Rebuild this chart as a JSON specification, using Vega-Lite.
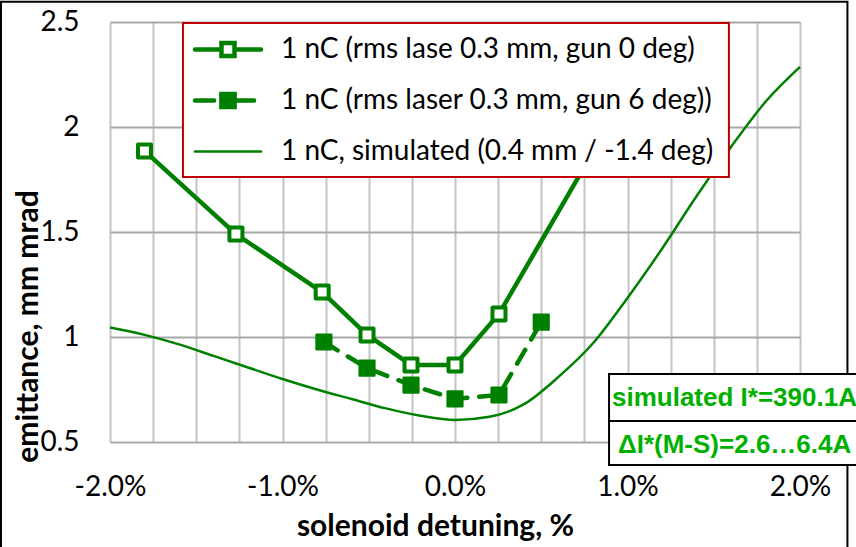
{
  "$schema": "https://vega.github.io/schema/vega-lite/v6.json",
  "width": 690,
  "height": 420,
  "autosize": {"type": "none"},
  "padding": {"left": 110, "top": 22, "right": 56, "bottom": 105},
  "background": "white",
  "config": {"view": {"stroke": null}, "font": "Lato, sans-serif"},
  "datasets": {
    "meas": [
      {"series": "1 nC (rms lase 0.3 mm, gun 0 deg)", "x": -0.018, "y": 1.886},
      {"series": "1 nC (rms lase 0.3 mm, gun 0 deg)", "x": -0.0127, "y": 1.49},
      {"series": "1 nC (rms lase 0.3 mm, gun 0 deg)", "x": -0.0077, "y": 1.214},
      {"series": "1 nC (rms lase 0.3 mm, gun 0 deg)", "x": -0.0051, "y": 1.01},
      {"series": "1 nC (rms lase 0.3 mm, gun 0 deg)", "x": -0.00255, "y": 0.867},
      {"series": "1 nC (rms lase 0.3 mm, gun 0 deg)", "x": 0.0, "y": 0.867},
      {"series": "1 nC (rms lase 0.3 mm, gun 0 deg)", "x": 0.00255, "y": 1.11},
      {"series": "1 nC (rms lase 0.3 mm, gun 0 deg)", "x": 0.0075, "y": 1.81},
      {"series": "1 nC (rms laser 0.3 mm, gun 6 deg))", "x": -0.0076, "y": 0.976},
      {"series": "1 nC (rms laser 0.3 mm, gun 6 deg))", "x": -0.0051, "y": 0.852},
      {"series": "1 nC (rms laser 0.3 mm, gun 6 deg))", "x": -0.00255, "y": 0.771},
      {"series": "1 nC (rms laser 0.3 mm, gun 6 deg))", "x": 0.0, "y": 0.705},
      {"series": "1 nC (rms laser 0.3 mm, gun 6 deg))", "x": 0.00255, "y": 0.724},
      {"series": "1 nC (rms laser 0.3 mm, gun 6 deg))", "x": 0.005, "y": 1.071}
    ],
    "sim": [
      {"series": "1 nC, simulated (0.4 mm / -1.4 deg)", "x": -0.02, "y": 1.045},
      {"series": "1 nC, simulated (0.4 mm / -1.4 deg)", "x": -0.018, "y": 1.01},
      {"series": "1 nC, simulated (0.4 mm / -1.4 deg)", "x": -0.016, "y": 0.965},
      {"series": "1 nC, simulated (0.4 mm / -1.4 deg)", "x": -0.014, "y": 0.91},
      {"series": "1 nC, simulated (0.4 mm / -1.4 deg)", "x": -0.012, "y": 0.855},
      {"series": "1 nC, simulated (0.4 mm / -1.4 deg)", "x": -0.01, "y": 0.8},
      {"series": "1 nC, simulated (0.4 mm / -1.4 deg)", "x": -0.008, "y": 0.75},
      {"series": "1 nC, simulated (0.4 mm / -1.4 deg)", "x": -0.006, "y": 0.705},
      {"series": "1 nC, simulated (0.4 mm / -1.4 deg)", "x": -0.004, "y": 0.66},
      {"series": "1 nC, simulated (0.4 mm / -1.4 deg)", "x": -0.002, "y": 0.625},
      {"series": "1 nC, simulated (0.4 mm / -1.4 deg)", "x": 0.0, "y": 0.605},
      {"series": "1 nC, simulated (0.4 mm / -1.4 deg)", "x": 0.002, "y": 0.62},
      {"series": "1 nC, simulated (0.4 mm / -1.4 deg)", "x": 0.004, "y": 0.68},
      {"series": "1 nC, simulated (0.4 mm / -1.4 deg)", "x": 0.006, "y": 0.81},
      {"series": "1 nC, simulated (0.4 mm / -1.4 deg)", "x": 0.008, "y": 0.97},
      {"series": "1 nC, simulated (0.4 mm / -1.4 deg)", "x": 0.01, "y": 1.186},
      {"series": "1 nC, simulated (0.4 mm / -1.4 deg)", "x": 0.012, "y": 1.42},
      {"series": "1 nC, simulated (0.4 mm / -1.4 deg)", "x": 0.014, "y": 1.67},
      {"series": "1 nC, simulated (0.4 mm / -1.4 deg)", "x": 0.016, "y": 1.905},
      {"series": "1 nC, simulated (0.4 mm / -1.4 deg)", "x": 0.018, "y": 2.12},
      {"series": "1 nC, simulated (0.4 mm / -1.4 deg)", "x": 0.02, "y": 2.286}
    ]
  },
  "layer": [
    {
      "data": {"name": "sim"},
      "mark": {"type": "line", "strokeWidth": 2.5, "interpolate": "monotone"},
      "encoding": {
        "x": {
          "field": "x", "type": "quantitative",
          "scale": {"domain": [-0.02, 0.02], "nice": false, "zero": false},
          "axis": {
            "title": "solenoid detuning, %",
            "values": [-0.02, -0.0175, -0.015, -0.0125, -0.01, -0.0075, -0.005, -0.0025, 0, 0.0025, 0.005, 0.0075, 0.01, 0.0125, 0.015, 0.0175, 0.02],
            "format": ".1%",
            "labelExpr": "abs(datum.value * 400 - round(datum.value * 100) * 4) < 0.01 ? replace(datum.label, '\u2212', '-') : ''",
            "domain": false, "ticks": false,
            "gridColor": "#c4c4c4", "gridWidth": 2, "gridOpacity": 1,
            "labelFontSize": 28, "labelColor": "black", "labelPadding": 31, "labelFlush": false,
            "titleFontSize": 30, "titleFontWeight": "bold", "titleColor": "black",
            "titleX": 325, "titleY": 84, "titleBaseline": "middle", "titleAnchor": "start", "titleAlign": "center"
          }
        },
        "y": {
          "field": "y", "type": "quantitative",
          "scale": {"domain": [0.5, 2.5], "nice": false, "zero": false},
          "axis": {
            "title": "emittance, mm mrad",
            "values": [0.5, 1, 1.5, 2, 2.5],
            "format": "~g",
            "domain": false, "ticks": false,
            "gridColor": "#a8a8a8", "gridWidth": 2, "gridOpacity": 1,
            "labelFontSize": 28, "labelColor": "black", "labelPadding": 31,
            "titleFontSize": 30, "titleFontWeight": "bold", "titleColor": "black",
            "titleX": -82, "titleY": 304, "titleBaseline": "middle", "titleAlign": "center", "titleAngle": -90
          }
        },
        "color": {
          "field": "series", "type": "nominal",
          "scale": {
            "domain": ["1 nC (rms lase 0.3 mm, gun 0 deg)", "1 nC (rms laser 0.3 mm, gun 6 deg))", "1 nC, simulated (0.4 mm / -1.4 deg)"],
            "range": ["#008000", "#008000", "#008000"]
          },
          "legend": {
            "title": null,
            "orient": "none",
            "legendX": 73,
            "legendY": 1,
            "padding": 1,
            "symbolSize": 4356,
            "clipHeight": 51,
            "rowPadding": 0,
            "symbolOffset": 30,
            "labelOffset": 39,
            "labelFontSize": 28,
            "labelColor": "black",
            "labelLimit": 600,
            "encode": {
              "symbols": {
                "update": {
                  "shape": {"signal": "datum.index === 0 ? 'M-1,0H-0.197M0.197,0H1M-0.197,-0.197H0.197V0.197H-0.197Z' : datum.index === 1 ? 'M-1,0H-0.42M0.26,0H0.79M-0.2,-0.2H0.2V0.2H-0.2Z' : 'M-1,0H1'"},
                  "strokeWidth": {"signal": "datum.index === 2 ? 2.5 : 4.5"},
                  "fill": {"signal": "datum.index === 0 ? 'white' : datum.index === 1 ? '#008000' : 'transparent'"},
                  "stroke": {"value": "#008000"},
                  "strokeCap": {"value": "round"},
                  "opacity": {"value": 1}
                }
              }
            }
          }
        }
      }
    },
    {
      "data": {"name": "meas"},
      "transform": [{"filter": "datum.series === '1 nC (rms laser 0.3 mm, gun 6 deg))'"}],
      "mark": {"type": "line", "strokeWidth": 4.5, "strokeDash": [16, 12], "strokeCap": "round"},
      "encoding": {
        "x": {"field": "x", "type": "quantitative"},
        "y": {"field": "y", "type": "quantitative"},
        "color": {"field": "series", "type": "nominal"}
      }
    },
    {
      "data": {"name": "meas"},
      "transform": [{"filter": "datum.series === '1 nC (rms lase 0.3 mm, gun 0 deg)'"}],
      "mark": {"type": "line", "strokeWidth": 4.5, "strokeCap": "round", "strokeJoin": "round"},
      "encoding": {
        "x": {"field": "x", "type": "quantitative"},
        "y": {"field": "y", "type": "quantitative"},
        "color": {"field": "series", "type": "nominal"}
      }
    },
    {
      "data": {"name": "meas"},
      "transform": [{"filter": "datum.series === '1 nC (rms laser 0.3 mm, gun 6 deg))'"}],
      "mark": {"type": "point", "shape": "square", "filled": true, "size": 230, "color": "#008000", "stroke": "#008000", "strokeWidth": 2, "opacity": 1, "strokeJoin": "round"},
      "encoding": {
        "x": {"field": "x", "type": "quantitative"},
        "y": {"field": "y", "type": "quantitative"}
      }
    },
    {
      "data": {"name": "meas"},
      "transform": [{"filter": "datum.series === '1 nC (rms lase 0.3 mm, gun 0 deg)'"}],
      "mark": {"type": "point", "shape": "square", "filled": false, "fill": "white", "fillOpacity": 1, "size": 169, "stroke": "#008000", "strokeWidth": 4, "opacity": 1, "strokeJoin": "round"},
      "encoding": {
        "x": {"field": "x", "type": "quantitative"},
        "y": {"field": "y", "type": "quantitative"}
      }
    },
    {
      "data": {"values": [{}]},
      "mark": {"type": "rect", "fill": "white", "stroke": "#c00000", "strokeWidth": 2, "clip": false},
      "encoding": {
        "x": {"datum": -0.01577, "type": "quantitative"},
        "x2": {"datum": 0.01588},
        "y": {"datum": 2.495, "type": "quantitative"},
        "y2": {"datum": 1.762}
      }
    },
    {
      "data": {"values": [{}]},
      "mark": {"type": "rect", "fill": "white", "fillOpacity": 0, "stroke": "black", "strokeWidth": 2, "clip": false},
      "encoding": {
        "x": {"datum": -0.02632, "type": "quantitative"},
        "x2": {"datum": 0.02275},
        "y": {"datum": 2.597, "type": "quantitative"},
        "y2": {"datum": -0.5}
      }
    },
    {
      "data": {"values": [{}]},
      "mark": {"type": "rect", "fill": "white", "stroke": "black", "strokeWidth": 2, "clip": false},
      "encoding": {
        "x": {"datum": 0.00893, "type": "quantitative"},
        "x2": {"datum": 0.025},
        "y": {"datum": 0.824, "type": "quantitative"},
        "y2": {"datum": 0.6}
      }
    },
    {
      "data": {"values": [{}]},
      "mark": {"type": "rect", "fill": "white", "stroke": "black", "strokeWidth": 2, "clip": false},
      "encoding": {
        "x": {"datum": 0.00893, "type": "quantitative"},
        "x2": {"datum": 0.025},
        "y": {"datum": 0.6, "type": "quantitative"},
        "y2": {"datum": 0.39}
      }
    },
    {
      "data": {"values": [{"label": "simulated I*=390.1A"}]},
      "mark": {"type": "text", "align": "left", "baseline": "middle", "font": "Liberation Sans", "fontWeight": "bold", "fontSize": 26, "color": "#00b000", "clip": false},
      "encoding": {
        "x": {"datum": 0.0091, "type": "quantitative"},
        "y": {"datum": 0.71, "type": "quantitative"},
        "text": {"field": "label"}
      }
    },
    {
      "data": {"values": [{"label": "ΔI*(M-S)=2.6…6.4A"}]},
      "mark": {"type": "text", "align": "left", "baseline": "middle", "font": "Liberation Sans", "fontWeight": "bold", "fontSize": 26, "color": "#00b000", "clip": false},
      "encoding": {
        "x": {"datum": 0.00945, "type": "quantitative"},
        "y": {"datum": 0.486, "type": "quantitative"},
        "text": {"field": "label"}
      }
    }
  ]
}
